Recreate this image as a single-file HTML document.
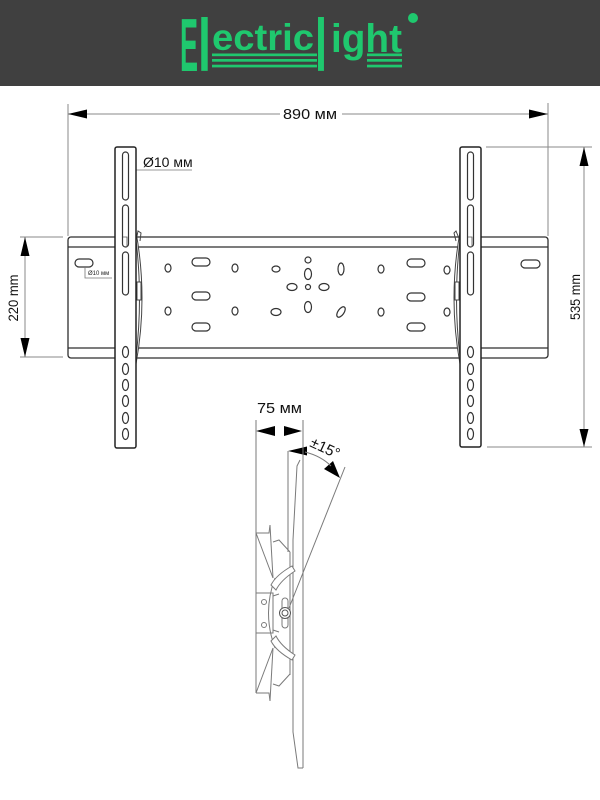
<!DOCTYPE html>
<html><head><meta charset="utf-8"><style>
html,body{margin:0;padding:0;background:#fff;}
svg{display:block;}
</style></head><body>
<svg width="600" height="800" viewBox="0 0 600 800" xmlns="http://www.w3.org/2000/svg" font-family="'Liberation Sans', Arial, sans-serif">
<rect x="0" y="0" width="600" height="800" fill="#fff"/>
<rect x="0" y="0" width="600" height="86" fill="#404040"/>
<!-- logo -->
<g fill="#1fc86e" font-weight="bold">
<text x="180" y="71" font-size="75" textLength="18" lengthAdjust="spacingAndGlyphs">E</text>
<text x="198" y="71" font-size="74" textLength="13" lengthAdjust="spacingAndGlyphs">l</text>
<text x="212" y="50" font-size="37" textLength="102" lengthAdjust="spacingAndGlyphs">ectric</text>
<text x="315" y="71" font-size="74" textLength="12" lengthAdjust="spacingAndGlyphs">l</text>
<text x="331" y="52" font-size="40" textLength="71" lengthAdjust="spacingAndGlyphs">ight</text>
<rect x="212" y="53.5" width="105" height="2.7"/>
<rect x="212" y="59" width="105" height="2.7"/>
<rect x="212" y="64.7" width="105" height="2.7"/>
<rect x="367" y="53.5" width="35" height="2.7"/>
<rect x="367" y="59" width="35" height="2.7"/>
<rect x="367" y="64.7" width="35" height="2.7"/>
<circle cx="413" cy="18" r="5"/>
</g>

<!-- dimension lines -->
<g stroke="#8a8a8a" stroke-width="1" fill="none">
<line x1="68" y1="104" x2="68" y2="236"/>
<line x1="548" y1="103" x2="548" y2="236"/>
<line x1="68" y1="114" x2="280" y2="114"/>
<line x1="342" y1="114" x2="548" y2="114"/>
<line x1="20" y1="237" x2="63" y2="237"/>
<line x1="20" y1="357" x2="63" y2="357"/>
<line x1="25" y1="237" x2="25" y2="357"/>
<line x1="486" y1="147" x2="592" y2="147"/>
<line x1="487" y1="447" x2="592" y2="447"/>
<line x1="584" y1="147" x2="584" y2="447"/>
</g>
<g fill="#000">
<polygon points="68,114 87,109.5 87,118.5"/>
<polygon points="548,114 529,109.5 529,118.5"/>
<polygon points="25,237 20.5,256 29.5,256"/>
<polygon points="25,357 20.5,338 29.5,338"/>
<polygon points="584,147 579.5,166 588.5,166"/>
<polygon points="584,447 579.5,429 588.5,429"/>
</g>
<g fill="#111" font-size="14">
<text x="310" y="119" text-anchor="middle" font-size="15" textLength="54" lengthAdjust="spacingAndGlyphs">890 мм</text>
<text transform="translate(18,298) rotate(-90)" text-anchor="middle" font-size="14" textLength="47" lengthAdjust="spacingAndGlyphs">220 mm</text>
<text transform="translate(580,297) rotate(-90)" text-anchor="middle" font-size="14" textLength="46" lengthAdjust="spacingAndGlyphs">535 mm</text>
</g>

<!-- plate -->
<g stroke="#2e2e2e" stroke-width="1.3" fill="#fff">
<rect x="68" y="237" width="480" height="121" rx="3"/>
<line x1="68" y1="247" x2="548" y2="247"/>
<line x1="68" y1="348" x2="548" y2="348"/>
</g>
<!-- plate holes -->
<g stroke="#333" stroke-width="1.2" fill="#fff">
<rect x="75" y="259" width="18" height="8" rx="4"/>
<ellipse cx="168" cy="268" rx="3" ry="4"/>
<ellipse cx="168" cy="311" rx="3" ry="4"/>
<rect x="192" y="258" width="18" height="8" rx="4"/>
<rect x="192" y="292" width="18" height="8" rx="4"/>
<rect x="192" y="323" width="18" height="8" rx="4"/>
<ellipse cx="235" cy="268" rx="3" ry="4"/>
<ellipse cx="235" cy="311" rx="3" ry="4"/>
<ellipse cx="276" cy="269" rx="4" ry="3"/>
<ellipse cx="276" cy="312" rx="5" ry="3.5"/>
<circle cx="308" cy="260" r="3"/>
<ellipse cx="308" cy="274" rx="3.5" ry="5.5"/>
<ellipse cx="292" cy="287" rx="5" ry="3.5"/>
<circle cx="308" cy="287" r="2.5"/>
<ellipse cx="324" cy="287" rx="5" ry="3.5"/>
<ellipse cx="308" cy="307" rx="3.5" ry="5.5"/>
<ellipse cx="341" cy="269" rx="3" ry="6"/>
<ellipse cx="341" cy="312" rx="3" ry="6" transform="rotate(35 341 312)"/>
<ellipse cx="381" cy="269" rx="3" ry="4"/>
<ellipse cx="381" cy="312" rx="3" ry="4"/>
<rect x="407" y="259" width="18" height="8" rx="4"/>
<rect x="407" y="293" width="18" height="8" rx="4"/>
<rect x="407" y="323" width="18" height="8" rx="4"/>
<ellipse cx="447" cy="270" rx="3" ry="4"/>
<ellipse cx="447" cy="312" rx="3" ry="4"/>
<rect x="521" y="260" width="19" height="8" rx="4"/>
</g>
<!-- small leader -->
<g stroke="#777" stroke-width="0.8" fill="none">
<polyline points="85,267 85,278 112,278"/>
<polyline points="124,177 133,170 192,170"/>
</g>
<text x="88" y="275" font-size="6" fill="#222">Ø10 мм</text>
<text x="143" y="167" font-size="14" fill="#111">Ø10 мм</text>

<!-- tilt curves -->
<g stroke="#444" stroke-width="1" fill="#fff">
<path d="M136,232 Q148,298 136,364 L136,357 Q143,298 136,240 Z"/>
<path d="M460,232 Q448,298 460,364 L460,357 Q453,298 460,240 Z"/>
<rect x="137" y="282" width="4" height="18"/>
<rect x="455" y="282" width="4" height="18"/>
<path d="M136,241 L138,231 L141,233 L140,241" fill="none"/>
<path d="M460,241 L456,231 L454,233 L456,241" fill="none"/>
</g>

<!-- brackets -->
<g stroke="#222" stroke-width="1.5" fill="#fff">
<rect x="115" y="147" width="21" height="301" rx="2"/>
<rect x="460" y="147" width="21" height="300" rx="2"/>
</g>
<g stroke="#333" stroke-width="1.2" fill="#fff">
<rect x="122.5" y="152" width="6" height="48" rx="3"/>
<rect x="122.5" y="205" width="6" height="42" rx="3"/>
<rect x="122.5" y="252" width="6" height="43" rx="3"/>
<ellipse cx="125.5" cy="352" rx="3" ry="5.5"/>
<ellipse cx="125.5" cy="369" rx="3" ry="5.5"/>
<ellipse cx="125.5" cy="385" rx="3" ry="5.5"/>
<ellipse cx="125.5" cy="401" rx="3" ry="5.5"/>
<ellipse cx="125.5" cy="418" rx="3" ry="5.5"/>
<ellipse cx="125.5" cy="434" rx="3" ry="5.5"/>
<rect x="467.5" y="152" width="6" height="48" rx="3"/>
<rect x="467.5" y="205" width="6" height="42" rx="3"/>
<rect x="467.5" y="252" width="6" height="43" rx="3"/>
<ellipse cx="470.5" cy="352" rx="3" ry="5.5"/>
<ellipse cx="470.5" cy="369" rx="3" ry="5.5"/>
<ellipse cx="470.5" cy="385" rx="3" ry="5.5"/>
<ellipse cx="470.5" cy="401" rx="3" ry="5.5"/>
<ellipse cx="470.5" cy="418" rx="3" ry="5.5"/>
<ellipse cx="470.5" cy="434" rx="3" ry="5.5"/>
</g>
<g stroke="#555" stroke-width="0.8" fill="none">
<polyline points="123,237 127,237 127,247"/>
<polyline points="468,237 472,237 472,247"/>
</g>

<!-- side view -->
<text x="257" y="413" font-size="15" fill="#111" textLength="45" lengthAdjust="spacingAndGlyphs">75 мм</text>
<g fill="#000">
<polygon points="256,431 275,426 275,436"/>
<polygon points="302,431 284,426 284,436"/>
<polygon points="288,451 307,446.5 307,455.5"/>
<polygon points="340,478 324,469 333,461"/>
</g>
<text transform="translate(309,446) rotate(25)" font-size="15" fill="#111">±15°</text>
<g stroke="#7a7a7a" stroke-width="1" fill="none">
<line x1="256" y1="420" x2="256" y2="693"/>
<line x1="303" y1="420" x2="303" y2="768"/>
<path d="M305,452 Q321,456 331,466"/>
<line x1="345" y1="467" x2="289" y2="608"/>
<!-- tv plate -->
<line x1="288" y1="451" x2="288" y2="552"/>
<path d="M300,460 L297,466 L293,540 L293,732 L298,768 L303,768"/>
<line x1="290" y1="552" x2="290" y2="675"/>
<!-- wall bracket -->
<polyline points="256,533 269,533 270,525"/>
<polyline points="256,693 269,693 270,701"/>
<line x1="256" y1="533" x2="273" y2="578"/>
<line x1="270" y1="525" x2="273" y2="578"/>
<line x1="256" y1="693" x2="273" y2="648"/>
<line x1="270" y1="701" x2="273" y2="648"/>
<polyline points="273,542 279,540 290,552"/>
<polyline points="273,684 279,686 290,674"/>
<rect x="256" y="593" width="17" height="40" fill="#fff"/>
<circle cx="264" cy="602" r="2.5"/>
<circle cx="264" cy="625" r="2.5"/>
<path d="M275,578 Q262,613 275,648"/>
<path d="M271,585 Q276,575 292,566 L295,571 Q281,580 276,590 Z" fill="#fff"/>
<path d="M271,641 Q276,651 292,660 L295,655 Q281,646 276,636 Z" fill="#fff"/>
<line x1="273" y1="596" x2="279" y2="594"/>
<line x1="273" y1="630" x2="279" y2="632"/>
<rect x="282" y="598" width="6" height="30" rx="3" fill="#fff"/>
<circle cx="285" cy="613" r="5.5" fill="#fff" stroke="#555"/>
<circle cx="285" cy="613" r="3" stroke="#555"/>
</g>
</svg>
</body></html>
